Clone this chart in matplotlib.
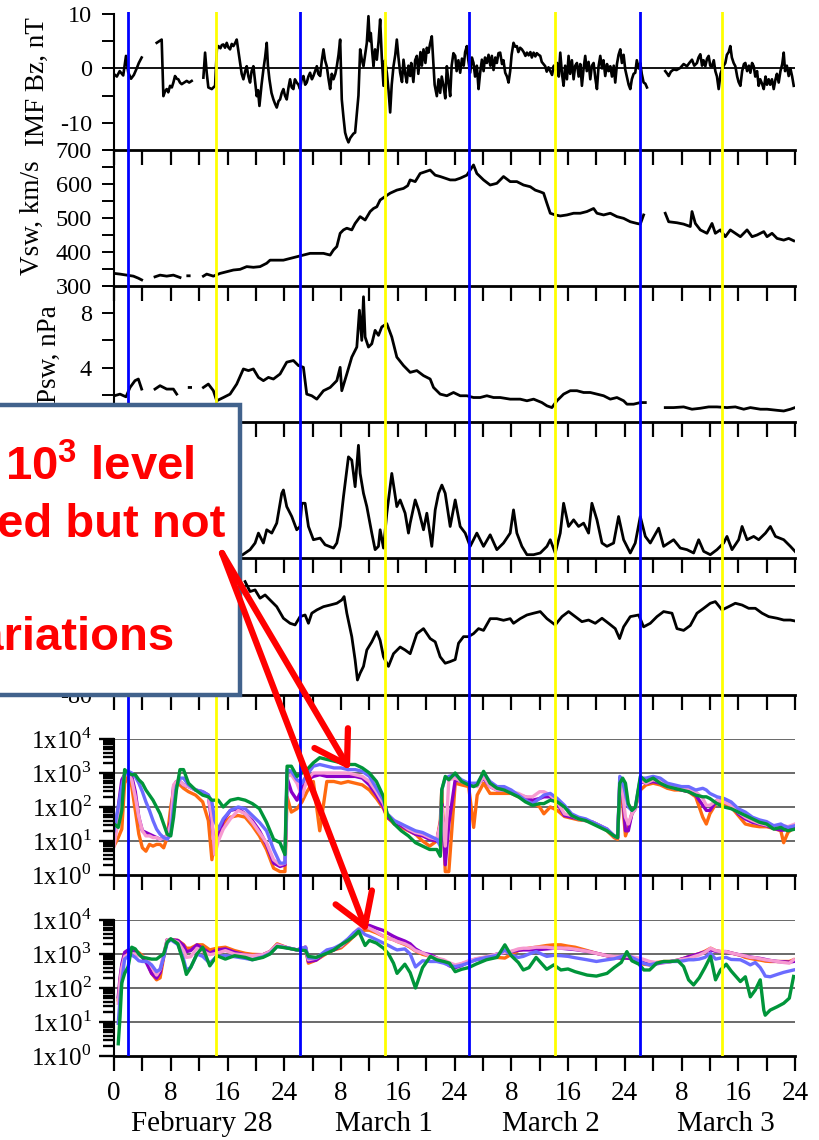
import numpy as np
import matplotlib
matplotlib.use("Agg")
import matplotlib.pyplot as plt
from matplotlib.patches import Rectangle, FancyArrowPatch
from matplotlib.ticker import LogLocator, NullFormatter

plt.rcParams['font.family'] = ['Liberation Serif', 'DejaVu Serif']
plt.rcParams['axes.unicode_minus'] = False
plt.rcParams['mathtext.fontset'] = 'custom'
plt.rcParams['mathtext.rm'] = 'Liberation Serif'
plt.rcParams['mathtext.bf'] = 'Liberation Sans:bold'

nan = np.nan

# -------------------- data (hours from Feb 28 00 UT) --------------------
hour_labels = ['0', '', '8', '', '16', '', '24', '', '8', '', '16', '', '24',
               '', '8', '', '16', '', '24', '', '8', '', '16', '', '24']
day_names = ['February 28', 'March 1', 'March 2', 'March 3']
day_pos = [12.3, 38.0, 61.6, 86.3]
blue_marks = [2.0, 26.2, 50.1, 74.2]
yellow_marks = [14.4, 38.2, 62.2, 85.7]

# IMF Bz, nT
bz_pts = [(0.05, -1.1), (0.4, -1.5), (0.8, -0.5), (1.3, -1.3), (1.69, 2.3), (2.0, -0.7), (2.4, -1.9),
          (2.8, -1.2), (3.2, 0.0), (3.5, 1.0), (3.9, 2.0), (4.5, nan),
          (6.02, 4.7), (6.72, 5.3), (6.96, -5.1), (7.2, -4.2), (7.43, -3.8), (7.65, -4.4), (7.9, -3.2),
          (8.15, -3.5), (8.37, -2.6), (8.6, -1.4), (8.85, -1.9), (9.07, -2.0), (9.3, -2.6),
          (9.54, -2.9), (9.9, -2.6), (10.25, -2.3), (10.6, -2.6), (10.95, -2.3), (11.5, nan),
          (12.6, -1.7), (12.84, 2.9), (13.07, -0.8), (13.3, -3.5), (13.78, -3.8), (14.25, -3.2),
          (14.5, 3.5), (14.72, 4.1), (15.0, 3.7), (15.2, 4.3), (15.42, 4.4), (15.65, 3.8),
          (15.89, 4.7), (16.1, 3.9), (16.36, 3.5), (16.6, 4.5), (16.83, 4.1), (17.05, 4.6),
          (17.3, 5.3), (17.55, 3.0), (17.77, 1.0), (18.0, -1.0), (18.24, -2.0), (18.5, -0.5),
          (18.71, 0.4), (18.95, -1.5), (19.18, -2.6), (19.4, -0.5), (19.65, 0.4), (19.9, -2.5),
          (20.12, -5.1), (20.3, -4.0), (20.5, -6.9), (20.8, -3.0), (21.06, -0.2), (21.3, 2.0),
          (21.53, 4.7), (21.7, 0.5), (21.91, -2.0), (22.2, -4.5), (22.47, -5.7), (22.7, -6.5),
          (22.94, -7.2), (23.2, -6.0), (23.41, -5.7), (23.65, -4.5), (23.88, -3.8), (24.1, -5.0),
          (24.35, -5.7), (24.6, -3.5), (24.82, -2.0), (25.05, -3.5), (25.29, -3.8), (25.5, -2.0),
          (25.76, -2.6), (26.0, -3.0), (26.23, -3.8), (26.45, -2.0), (26.7, -1.4), (26.95, -3.0),
          (27.17, -2.6), (27.4, -1.5), (27.64, -0.8), (27.9, -2.0), (28.11, -1.4), (28.35, -0.5),
          (28.59, 0.4), (28.8, -1.0), (29.06, -1.4), (29.3, 1.5), (29.53, 3.5), (29.75, 1.5),
          (29.99, 0.4), (30.25, -2.0), (30.47, -3.8), (30.7, -1.0), (30.94, -2.0), (31.2, -1.0),
          (31.41, 0.4), (31.65, 2.5), (31.88, 5.3), (32.11, -5.7), (32.35, -9.0), (32.58, -11.8),
          (32.8, -12.8), (33.05, -13.6), (33.3, -12.8), (33.52, -12.4), (33.75, -12.0),
          (33.99, -11.8), (34.25, -8.0), (34.46, -5.0), (34.7, 3.5), (34.95, 1.5), (35.17, 0.4),
          (35.4, 2.5), (35.64, 4.7), (35.87, 9.6), (36.05, 5.0), (36.2, 6.5), (36.4, 3.0),
          (36.58, 0.4), (36.8, 3.5), (37.05, 1.6), (37.3, 5.0), (37.52, 9.0), (37.75, 2.0),
          (37.99, -3.2), (38.2, 1.5), (38.46, -0.8), (38.7, -4.0), (38.93, -8.1), (39.15, -3.0),
          (39.4, 0.4), (39.65, 2.5), (39.87, 5.3), (40.1, 2.0), (40.34, -0.8), (40.6, -2.5),
          (40.81, 1.6), (41.05, -1.0), (41.28, -2.6), (41.5, 0.5), (41.75, -1.4), (41.9, 1.0),
          (42.2, -2.5), (42.45, 1.5), (42.69, 2.3), (42.9, -1.0), (43.2, 3.0), (43.4, 0.5),
          (43.63, 3.5), (43.9, 1.0), (44.1, 3.8), (44.33, 2.9), (44.55, 4.5), (44.8, 5.9),
          (45.04, 0.4), (45.2, -3.0), (45.51, -5.1), (45.75, -2.0), (45.98, -4.5), (46.2, -1.5),
          (46.45, -3.2), (46.7, -5.5), (46.92, 0.4), (47.15, -2.5), (47.39, -5.1), (47.6, 0.5),
          (47.85, 2.8), (48.1, 2.3), (48.3, -0.5), (48.55, 1.5), (48.8, -0.8), (49.05, 1.8),
          (49.3, 0.5), (49.5, 3.0), (49.74, 4.1), (49.95, 1.5), (50.21, -0.8), (50.45, 2.0),
          (50.68, 1.0), (50.9, -1.5), (51.15, 0.5), (51.39, -3.8), (51.6, -1.0), (51.86, 1.6),
          (52.1, -0.5), (52.3, 2.0), (52.56, 1.0), (52.8, 2.5), (53.05, 0.5), (53.27, 2.3),
          (53.5, -0.3), (53.75, 2.0), (53.97, 1.0), (54.2, 2.8), (54.44, 2.9), (54.7, 0.8),
          (54.9, 1.5), (55.15, -0.8), (55.4, -1.5), (55.62, -2.6), (55.85, -0.5), (56.05, 2.5),
          (56.32, 4.7), (56.55, 4.0), (56.79, 4.1), (57.0, 3.0), (57.25, 3.8), (57.5, 3.5),
          (57.75, 3.0), (58.0, 2.3), (58.21, 2.9), (58.45, 2.4), (58.7, 3.0), (58.9, 2.0),
          (59.15, 2.9), (59.4, 2.2), (59.6, 2.8), (59.85, 2.5), (60.09, 2.3), (60.3, 1.2),
          (60.55, 0.8), (60.79, 0.4), (61.0, -0.6), (61.25, 0.2), (61.5, -0.5), (61.75, -1.2),
          (62.0, 0.5), (62.2, -0.2), (62.45, 1.0), (62.7, -1.5), (62.91, 2.9), (63.15, -1.0),
          (63.38, -3.2), (63.6, 0.5), (63.85, -2.0), (64.08, 2.3), (64.3, -1.0), (64.55, 1.5),
          (64.79, -2.0), (65.02, 0.5), (65.26, 1.0), (65.5, -1.5), (65.73, 0.8), (65.96, -3.2),
          (66.2, 0.0), (66.43, 2.3), (66.65, -0.5), (66.9, 1.2), (67.14, -2.0), (67.37, 0.5),
          (67.61, 1.0), (67.85, -1.8), (68.08, -3.8), (68.3, 0.3), (68.55, 2.3), (68.8, 0.0),
          (69.0, 1.5), (69.25, -1.4), (69.5, 0.8), (69.72, -0.5), (69.96, 0.4), (70.2, -1.5),
          (70.45, 0.5), (70.66, -2.6), (70.9, 0.8), (71.13, 2.5), (71.37, 3.5), (71.6, 1.0),
          (71.84, 2.5), (72.07, -0.2), (72.3, -1.5), (72.55, -3.0), (72.78, -3.8), (73.0, -2.0),
          (73.25, -1.0), (73.48, -0.8), (73.7, 1.5), (73.95, 0.0), (74.19, 1.0), (74.4, -1.0),
          (74.66, -2.6), (74.9, -2.8), (75.13, -3.5), (76.0, nan),
          (77.71, -0.5), (78.0, -1.0), (78.19, -1.4), (78.5, -0.6), (78.89, -0.2), (79.3, -0.3),
          (79.83, 0.1), (80.3, 0.8), (80.77, 0.4), (81.1, 1.0), (81.48, 1.6), (81.8, 0.5),
          (82.18, 1.0), (82.4, 2.0), (82.65, 2.6), (82.9, 0.5), (83.1, 1.5), (83.36, 0.4),
          (83.6, 1.8), (83.83, 2.3), (84.05, 0.5), (84.3, 0.4), (84.55, 1.5), (84.77, -0.5),
          (85.0, -1.5), (85.24, -3.8), (85.5, -1.0), (85.71, -0.2), (85.95, 0.5), (86.18, 1.0),
          (86.4, 2.5), (86.65, 3.0), (86.88, 4.1), (87.1, 2.0), (87.35, 1.0), (87.59, 0.4),
          (87.85, -1.5), (88.05, -2.5), (88.3, -3.2), (88.55, -0.5), (88.8, 0.8), (89.0, 1.0),
          (89.25, -0.5), (89.5, 0.5), (89.71, -0.8), (89.95, 1.0), (90.18, 0.4), (90.4, -1.5),
          (90.65, -0.5), (90.88, -3.2), (91.1, -2.0), (91.35, -2.8), (91.59, -3.8), (91.85, -1.5),
          (92.05, -3.0), (92.29, -2.0), (92.5, -3.0), (92.75, -2.0), (93.0, -3.8), (93.25, -2.0),
          (93.45, -1.0), (93.7, -2.6), (93.95, -0.5), (94.2, 0.8), (94.41, 2.9), (94.6, -0.5),
          (94.85, 0.5), (95.11, -1.4), (95.35, 0.0), (95.6, -1.5), (95.82, -3.2)]

# solar wind speed, km/s
vsw_pts = [(0.05, 337), (0.85, 335), (1.79, 332), (2.73, 329), (3.43, 323), (3.9, 318), (4.5, nan),
           (5.78, 327), (6.49, 332), (7.43, 329), (8.37, 332), (9.31, 325), (9.8, nan),
           (10.4, 330), (10.6, 330), (11.0, nan),
           (12.6, 329), (13.07, 335), (14.01, 329), (14.95, 337), (15.89, 342), (16.83, 347),
           (17.77, 349), (18.71, 357), (19.65, 355), (20.59, 357), (21.53, 367), (22.0, 376),
           (22.94, 376), (23.88, 376), (24.82, 381), (25.76, 386), (26.7, 391), (27.64, 396),
           (28.59, 396), (29.53, 396), (30.47, 391), (30.94, 406), (31.41, 416), (31.88, 455),
           (32.35, 465), (32.82, 470), (33.52, 465), (33.99, 484), (34.7, 504), (35.4, 494),
           (36.11, 519), (36.58, 528), (37.05, 533), (37.52, 553), (38.22, 563), (38.93, 573),
           (39.87, 582), (40.81, 587), (41.4, 595), (41.75, 612), (42.46, 607), (43.16, 631),
           (43.87, 636), (44.57, 641), (45.28, 626), (45.98, 622), (46.69, 617), (47.39, 612),
           (48.1, 612), (48.8, 617), (49.74, 626), (50.21, 641), (50.68, 656), (51.15, 631),
           (52.09, 612), (53.03, 597), (53.97, 602), (54.91, 622), (55.85, 607), (56.79, 607),
           (57.73, 597), (58.68, 592), (59.38, 582), (60.09, 577), (60.56, 573), (61.03, 543),
           (61.5, 514), (62.2, 509), (62.91, 506), (63.85, 509), (64.79, 514), (65.73, 514),
           (66.67, 519), (67.61, 528), (68.08, 514), (69.02, 509), (69.96, 514), (70.9, 504),
           (71.84, 499), (72.78, 489), (73.72, 484), (74.19, 482), (74.66, 509), (75.5, nan),
           (77.71, 514), (78.19, 489), (79.36, 486), (80.3, 482), (81.24, 475), (81.48, 519),
           (81.95, 484), (82.65, 465), (83.59, 455), (84.3, 484), (84.77, 455), (85.47, 465),
           (86.18, 445), (86.88, 465), (87.59, 455), (88.3, 445), (88.77, 455), (89.24, 465),
           (89.95, 445), (90.65, 450), (91.6, 460), (92.06, 445), (92.76, 455), (93.47, 440),
           (94.41, 435), (95.11, 440), (95.82, 433)]

# solar wind dynamic pressure, nPa
psw_pts = [(0.05, 1.93), (0.85, 2.05), (1.69, 1.85), (2.26, 2.54), (2.96, 3.04), (3.43, 3.16),
           (3.9, 2.42), (4.5, nan),
           (5.78, 2.42), (6.49, 2.67), (7.43, 2.42), (8.37, 2.42), (8.84, 2.05), (9.5, nan),
           (10.6, 2.54), (10.8, 2.54), (11.2, nan),
           (12.6, 2.54), (13.3, 2.79), (14.01, 2.30), (14.48, 1.56), (15.42, 1.80), (16.36, 2.05),
           (17.3, 2.79), (18.24, 3.90), (18.95, 3.78), (19.65, 3.90), (20.36, 3.28), (21.06, 3.04),
           (21.77, 3.28), (22.47, 3.16), (23.41, 3.53), (24.35, 4.40), (25.29, 4.52), (26.0, 4.15),
           (26.7, 4.02), (27.17, 2.05), (27.88, 1.93), (28.59, 1.68), (29.53, 2.30), (30.47, 2.54),
           (31.41, 3.04), (31.88, 4.02), (32.11, 2.30), (32.82, 3.53), (33.52, 4.77), (34.23, 5.51),
           (34.6, 8.22), (34.93, 6.0), (35.17, 9.21), (35.4, 6.25), (35.87, 5.51), (36.34, 5.75),
           (36.81, 6.74), (37.28, 6.37), (37.75, 6.99), (38.46, 7.23), (39.16, 6.25), (39.87, 4.77),
           (40.81, 4.15), (41.75, 3.65), (42.69, 3.78), (43.63, 3.41), (44.57, 3.16), (45.04, 2.54),
           (45.98, 2.05), (46.92, 1.93), (47.86, 2.17), (48.8, 1.93), (49.74, 1.93), (50.68, 1.80),
           (51.62, 1.80), (52.56, 1.93), (53.5, 1.80), (54.44, 1.80), (55.85, 1.68), (57.26, 1.68),
           (58.21, 1.56), (59.15, 1.68), (60.32, 1.43), (61.03, 1.19), (61.73, 1.06), (62.44, 1.56),
           (63.38, 2.05), (64.32, 2.30), (65.26, 2.30), (66.2, 2.17), (67.14, 2.17), (68.08, 2.05),
           (69.02, 1.93), (69.96, 1.68), (70.9, 1.80), (71.84, 1.56), (72.31, 1.31), (73.25, 1.31),
           (74.19, 1.43), (74.9, 1.43), (75.6, nan),
           (77.71, 1.06), (78.89, 1.06), (80.3, 1.11), (81.48, 0.94), (82.65, 1.01), (83.83, 1.11),
           (85.0, 1.11), (86.41, 1.06), (87.59, 1.11), (88.77, 0.94), (89.71, 1.06), (91.12, 0.94),
           (92.06, 0.94), (93.47, 0.86), (94.41, 0.81), (95.35, 0.94), (96.0, 1.06)]

# auroral activity index, nT (left part hidden by the callout)
ae_pts = [(18.15, 39), (19.18, 98), (19.89, 176), (20.36, 293), (21.06, 176), (21.53, 332),
          (22.24, 293), (22.94, 410), (23.65, 761), (23.88, 800), (24.35, 605), (25.06, 488),
          (25.76, 332), (26.23, 371), (26.47, 644), (26.94, 644), (27.41, 371), (28.11, 215),
          (29.06, 234), (29.76, 156), (30.94, 117), (31.41, 176), (31.88, 371), (32.35, 722),
          (33.05, 1190), (33.52, 1151), (33.99, 839), (34.46, 1326), (34.7, 995), (35.17, 761),
          (35.64, 605), (36.34, 293), (36.81, 98), (37.28, 137), (37.52, 332), (37.99, 117),
          (38.46, 527), (39.16, 995), (39.87, 605), (40.34, 683), (41.04, 527), (41.51, 293),
          (41.75, 410), (42.46, 683), (42.93, 566), (43.63, 332), (44.1, 527), (44.8, 137),
          (45.28, 566), (45.75, 761), (46.22, 858), (46.69, 761), (47.39, 371), (48.1, 683),
          (48.8, 371), (49.51, 293), (50.21, 137), (51.15, 293), (52.09, 137), (53.03, 273),
          (53.97, 98), (54.91, 176), (55.85, 293), (56.32, 566), (56.79, 293), (57.5, 137),
          (58.21, 39), (59.15, 39), (60.09, 59), (61.03, 137), (61.5, 215), (62.2, 59),
          (62.91, 293), (63.38, 644), (64.08, 371), (64.79, 449), (65.49, 371), (66.2, 410),
          (66.9, 293), (67.37, 644), (68.08, 449), (68.79, 176), (69.49, 137), (70.43, 176),
          (71.13, 488), (71.84, 215), (72.78, 59), (73.48, 176), (74.19, 488), (74.9, 254),
          (75.6, 176), (76.78, 351), (77.48, 137), (78.89, 215), (79.83, 117), (80.77, 98),
          (81.71, 59), (82.42, 215), (83.13, 78), (84.06, 39), (85.0, 98), (85.94, 176),
          (86.41, 254), (87.12, 98), (88.06, 215), (88.54, 371), (89.24, 215), (90.18, 254),
          (90.88, 215), (91.84, 293), (92.53, 371), (93.24, 254), (94.41, 215), (95.35, 137),
          (96.0, 78)]

# ring current index, nT (left part hidden by the callout)
dst_pts = [(18.48, 3.2), (19.18, -4.1), (19.89, -2.9), (20.59, -9.0), (21.3, -6.6), (22.0, -10.3),
           (22.94, -15.2), (23.88, -23.7), (24.82, -27.4), (25.53, -28.6), (26.23, -22.5),
           (26.94, -21.3), (27.41, -27.4), (27.88, -20.0), (28.59, -17.6), (29.53, -15.2),
           (30.47, -14.0), (31.41, -12.7), (32.11, -10.3), (32.44, -7.8), (32.82, -20.0),
           (33.52, -37.2), (33.99, -54.3), (34.32, -69.0), (34.7, -64.0), (35.17, -59.0),
           (35.64, -47.0), (36.34, -41.0), (37.05, -33.5), (37.52, -40.0), (37.99, -52.0),
           (38.69, -59.0), (39.4, -49.7), (40.34, -44.8), (41.04, -47.0), (41.75, -49.7),
           (42.69, -35.0), (43.63, -31.3), (44.57, -38.6), (45.28, -41.0), (45.98, -52.0),
           (46.69, -56.7), (47.39, -55.5), (48.1, -54.0), (48.57, -42.0), (49.27, -37.2),
           (49.97, -37.2), (50.68, -35.0), (51.39, -31.3), (52.09, -32.6), (53.03, -24.0),
           (53.97, -24.0), (54.91, -25.2), (55.85, -24.0), (56.32, -27.4), (57.26, -24.0),
           (58.21, -21.3), (59.15, -20.0), (60.09, -18.8), (61.03, -24.0), (62.2, -28.6),
           (63.15, -22.5), (64.08, -18.8), (65.02, -22.5), (65.96, -26.2), (66.9, -25.0),
           (67.84, -27.4), (68.79, -23.7), (69.72, -27.4), (70.66, -31.3), (71.27, -38.6),
           (71.84, -30.0), (72.78, -22.5), (73.96, -21.3), (74.66, -30.0), (75.6, -27.4),
           (76.54, -22.5), (77.48, -18.8), (78.66, -20.0), (79.36, -31.3), (80.3, -32.6),
           (81.24, -29.0), (82.18, -20.0), (83.13, -16.4), (84.06, -12.7), (84.77, -11.5),
           (85.71, -17.6), (86.65, -15.2), (87.59, -12.7), (88.54, -14.0), (89.47, -16.4),
           (90.41, -16.4), (91.36, -20.0), (92.29, -22.5), (93.47, -23.7), (94.41, -25.0),
           (95.35, -25.0), (96.0, -25.7)]

# electron flux, upper log panel: common time base, values are log10(flux)
t6 = [0, 0.6, 1.1, 1.5, 2.0, 2.5, 3.0, 3.5, 4.0, 4.5, 5.0, 5.5, 6.0, 6.5, 7.0, 7.5, 8.0, 8.4, 8.8, 9.3,
      9.8, 10.5, 11.5, 12.5, 13.3, 13.8, 14.2, 14.7, 15.4, 16.4, 17.5, 18.5, 19.5, 20.5, 21.5,
      22.5, 23.4, 24.1, 24.4, 25.0, 25.8, 26.5, 27.2, 28.1, 29.0, 30, 31, 32, 33, 34,
      35, 36, 37, 38, 38.5, 39.5, 40.5, 41.5, 42.5, 43.5, 44.5, 45.5, 46.0, 46.2, 46.7,
      47.2, 48.1, 49.0, 50.0, 50.7, 51.2, 52.1, 53, 54, 55, 56, 57, 58, 59, 60,
      60.6, 61.5, 62.5, 63.5, 64.5, 65.5, 66.5, 67.5, 68.5, 69.5, 70.5, 71.0, 71.3, 71.7, 72.1,
      72.5, 73.0, 73.5, 74.2, 75.0, 76, 77, 78, 79, 80, 81, 82, 83, 83.5, 84,
      85, 86, 87, 88, 89, 90, 91, 92, 93, 94, 94.4, 95, 96]
f6_green = [1.5, 1.4, 1.9, 3.1, 3.0, 2.95, 2.95, 2.8, 2.7, 2.5, 2.35, 2.2, 2.0, 1.8, 1.5,
            1.2, 1.15, 1.7, 2.5, 3.1, 3.1, 2.7, 2.5, 2.35, 2.3, 2.2, 2.2, 2.2, 2.0, 2.2,
            2.25, 2.2, 2.1, 1.95, 1.55, 1.05, 0.95, 0.6, 3.2, 3.2, 2.9, 3.0, 3.1, 3.3, 3.45,
            3.4, 3.35, 3.3, 3.25, 3.25, 3.15, 3.0, 2.75, 2.3, 1.8, 1.5, 1.3, 1.15, 0.95, 0.85,
            0.75, 0.75, 0.55, 2.5, 2.9, 2.8, 3.0, 2.75, 2.65, 2.6, 2.65, 3.05, 2.7, 2.55, 2.5,
            2.4, 2.3, 2.15, 2.05, 2.1, 2.1, 2.2, 2.15, 2.0, 1.75, 1.65, 1.6, 1.5, 1.4, 1.3,
            1.15, 1.1, 2.7, 2.85, 2.7, 2.1, 1.9, 2.0, 2.9, 2.75, 2.85, 2.7, 2.6, 2.55, 2.5,
            2.45, 2.35, 2.3, 2.3, 2.25, 2.1, 2.0, 1.95, 1.85, 1.75, 1.65, 1.55, 1.5, 1.35, 1.4,
            1.35, 1.3, 1.35]
f6_blue = [1.3, 2.0, 2.6, 2.95, 3.05, 3.0, 2.9, 2.7, 2.45, 2.15, 1.9, 1.6, 1.35, 1.2, 1.1,
           1.05, 1.2, 2.0, 2.6, 2.85, 2.85, 2.65, 2.5, 2.45, 2.35, 2.15, 1.6, 1.35, 1.65, 1.9,
           2.0, 1.95, 1.75, 1.55, 1.3, 0.75, 0.35, 0.35, 3.1, 3.05, 2.8, 2.7, 2.95, 3.2, 3.25,
           3.2, 3.15, 3.15, 3.1, 3.1, 3.05, 2.9, 2.55, 2.2, 1.8, 1.6, 1.5, 1.4, 1.3, 1.25,
           1.15, 1.05, 0.85, 2.5, 2.85, 2.9, 2.95, 2.8, 2.7, 2.7, 2.7, 3.0, 2.75, 2.6, 2.6,
           2.5, 2.35, 2.2, 2.1, 2.25, 2.35, 2.4, 2.25, 2.05, 1.8, 1.7, 1.65, 1.55, 1.45, 1.35,
           1.15, 1.1, 2.9, 2.75, 2.4, 2.0, 1.9, 2.0, 2.85, 2.85, 2.9, 2.85, 2.7, 2.65, 2.6,
           2.6, 2.5, 2.55, 2.5, 2.4, 2.3, 2.25, 2.15, 1.95, 1.85, 1.7, 1.62, 1.57, 1.45, 1.5,
           1.45, 1.4, 1.45]
f6_pink = [0.85, 1.6, 2.5, 2.95, 3.0, 2.8, 2.3, 1.7, 1.3, 1.15, 1.15, 1.1, 1.1, 1.05, 1.1,
           1.15, 1.5, 2.65, 2.75, 2.75, 2.65, 2.6, 2.5, 2.45, 2.3, 1.7, 0.6, 1.0, 1.35, 1.65,
           1.9, 1.8, 1.55, 1.25, 0.95, 0.45, 0.3, 0.35, 2.9, 2.95, 2.7, 2.3, 2.8, 3.0, 3.0,
           3.0, 3.0, 3.0, 3.0, 2.95, 2.9, 2.75, 2.45, 2.1, 1.8, 1.6, 1.5, 1.35, 1.25, 1.2,
           1.1, 1.05, 1.5, 2.0, 0.85, 2.8, 2.85, 2.75, 2.7, 2.65, 2.6, 2.9, 2.6, 2.5, 2.5,
           2.45, 2.4, 2.3, 2.3, 2.45, 2.45, 2.35, 2.15, 1.8, 1.75, 1.65, 1.6, 1.55, 1.45, 1.35,
           1.15, 1.1, 2.75, 2.4, 1.7, 1.5, 1.8, 1.95, 2.8, 2.7, 2.8, 2.75, 2.6, 2.55, 2.55,
           2.55, 2.45, 2.25, 2.05, 2.05, 2.2, 2.15, 2.05, 1.85, 1.7, 1.6, 1.52, 1.47, 1.42, 1.47,
           1.45, 1.42, 1.5]
f6_purple = [0.95, 2.0, 2.8, 2.95, 3.0, 2.9, 2.45, 1.7, 1.3, 1.25, 1.2, 1.15, 1.1, 1.05, 1.1,
             1.15, 1.6, 2.6, 2.75, 2.75, 2.65, 2.6, 2.5, 2.45, 2.35, 1.5, 0.85, 1.1, 1.6, 1.9,
             1.95, 1.8, 1.6, 1.3, 0.9, 0.35, 0.25, 0.3, 2.85, 2.45, 2.2, 2.55, 2.8, 2.9, 2.95,
             2.9, 2.9, 2.9, 2.9, 2.9, 2.85, 2.65, 2.35, 2.0, 1.7, 1.55, 1.45, 1.32, 1.2, 1.15,
             1.05, 1.0, 1.5, 2.1, 0.3, 1.5, 2.8, 2.75, 2.7, 2.65, 2.65, 2.85, 2.6, 2.5, 2.5,
             2.45, 2.35, 2.3, 2.2, 2.25, 2.3, 2.3, 2.1, 1.75, 1.7, 1.65, 1.6, 1.55, 1.45, 1.35,
             1.15, 1.1, 2.7, 2.4, 1.3, 1.3, 1.8, 1.95, 2.75, 2.7, 2.75, 2.7, 2.6, 2.55, 2.5,
             2.45, 2.35, 2.05, 1.9, 1.9, 2.2, 2.15, 2.1, 1.8, 1.65, 1.55, 1.5, 1.45, 1.37, 1.32,
             1.32, 1.35, 1.45]
f6_orange = [0.85, 1.1, 1.35, 2.7, 2.9, 2.6, 1.9, 1.2, 0.8, 0.7, 0.9, 0.85, 0.9, 0.9, 0.8,
             1.1, 2.0, 2.5, 2.75, 2.65, 2.55, 2.45, 2.35, 2.15, 1.6, 0.45, 1.05, 1.25, 1.5, 1.7,
             1.75, 1.7, 1.45, 1.15, 0.75, 0.2, 0.1, 0.1, 2.3, 1.85, 1.95, 2.15, 2.45, 2.75, 1.3,
             2.75, 2.75, 2.7, 2.75, 2.7, 2.65, 2.5, 2.25, 1.95, 1.7, 1.5, 1.4, 1.3, 1.2, 1.0,
             0.85, 1.0, 1.6, 2.5, 0.1, 0.1, 2.7, 2.65, 2.6, 1.4, 2.35, 2.7, 2.4, 2.4, 2.4,
             2.4, 2.3, 2.25, 2.15, 2.0, 1.8, 2.0, 1.9, 1.72, 1.67, 1.62, 1.6, 1.55, 1.45, 1.3,
             1.1, 1.05, 2.6, 2.1, 1.15, 1.4, 1.8, 2.0, 2.5, 2.65, 2.7, 2.65, 2.55, 2.5, 2.5,
             2.45, 2.3, 1.7, 1.5, 1.8, 2.15, 2.1, 2.0, 1.75, 1.5, 1.45, 1.42, 1.42, 1.37, 1.3,
             0.95, 1.25, 1.42]

# electron flux, lower log panel: common time base, values are log10(flux)
t7 = [0.6, 0.85, 1.1, 1.5, 2.0, 2.5, 3.0, 3.5, 4.0, 4.6, 5.3, 6.0, 6.5, 7.0, 7.5,
      8.0, 9.0, 9.8, 10.2, 10.8, 11.7, 12.5, 13.5, 14.5, 15.7, 17.0, 18.5, 19.5, 21.0, 22.0,
      23.0, 24.5, 25.8, 27.0, 27.4, 28.5, 30.0, 31.0, 32.0, 33.0, 33.8, 34.5, 35.4, 36.0, 37.0,
      38.0, 38.7, 39.4, 39.9, 41.0, 41.75, 42.5, 43.5, 44.6, 45.5, 46.5, 47.3, 48.1, 49.0, 50.0,
      51.0, 52.5, 54.0, 55.1, 56.0, 57.0, 57.7, 58.5, 59.5, 61.0, 62.0, 63.0, 64.0, 65.0, 66.7,
      68.0, 69.5, 70.5, 71.5, 72.3, 73.0, 74.0, 74.7, 75.5, 76.5, 77.5, 78.5, 79.5, 80.3, 81.0,
      81.7, 82.5, 83.3, 84.1, 84.8, 85.5, 86.3, 87.0, 88.3, 89.0, 89.7, 90.4, 91.1, 91.6, 91.8,
      92.5, 93.5, 94.4, 95.2, 95.8]
f7_green = [0.36, 1.15, 2.15, 2.43, 2.63, 3.2, 3.15, 3.0, 2.9, 2.88, 2.85, 2.85, 2.93, 3.0, 3.35,
            3.45, 3.3, 2.75, 2.4, 2.6, 3.0, 3.2, 2.65, 2.95, 2.85, 2.95, 2.9, 2.83, 2.9, 3.0,
            3.22, 3.17, 3.12, 3.1, 2.93, 2.9, 3.02, 3.12, 3.27, 3.4, 3.52, 3.67, 3.25, 3.4, 3.32,
            3.17, 3.0, 2.73, 2.43, 2.7, 2.45, 2.0, 2.6, 2.93, 2.83, 2.78, 2.73, 2.48, 2.55, 2.6,
            2.7, 2.83, 2.9, 3.27, 2.95, 2.75, 2.53, 2.6, 2.9, 2.55, 2.68, 2.53, 2.56, 2.48, 2.38,
            2.35, 2.43, 2.6, 2.75, 3.07, 2.8, 2.7, 2.53, 2.53, 2.73, 2.78, 2.78, 2.8, 2.63, 2.24,
            2.09, 2.3, 2.6, 2.93, 2.24, 2.53, 2.7, 2.5, 2.19, 2.33, 1.74, 1.94, 2.24, 1.35, 1.2,
            1.35, 1.45, 1.55, 1.7, 2.34]
f7_blue = [0.96, 1.7, 2.2, 2.85, 2.93, 2.97, 2.9, 2.8, 2.78, 2.78, 2.68, 2.48, 2.55, 2.9, 3.33,
           3.42, 3.28, 2.85, 2.53, 2.6, 3.0, 2.93, 2.73, 2.93, 2.95, 2.92, 2.87, 2.83, 2.92, 3.02,
           3.22, 3.18, 3.12, 3.2, 2.88, 2.88, 3.12, 3.17, 3.28, 3.45, 3.62, 3.73, 3.57, 3.52, 3.42,
           3.32, 3.25, 3.17, 3.12, 3.15, 3.0, 2.62, 2.8, 2.78, 2.78, 2.73, 2.66, 2.63, 2.67, 2.74,
           2.83, 2.9, 2.96, 3.12, 2.97, 2.9, 2.93, 3.0, 3.07, 2.93, 2.96, 2.95, 2.93, 2.89, 2.83,
           2.78, 2.83, 2.86, 2.92, 2.98, 2.9, 2.8, 2.72, 2.68, 2.73, 2.76, 2.78, 2.78, 2.8, 2.83,
           2.83, 2.85, 2.9, 3.02, 2.85, 2.88, 2.9, 2.84, 2.83, 2.76, 2.68, 2.75, 2.6, 2.43, 2.35,
           2.33, 2.4, 2.46, 2.5, 2.53]
f7_pink = [1.55, 2.2, 2.6, 2.93, 2.98, 3.0, 3.0, 2.95, 2.92, 2.88, 2.63, 2.38, 2.55, 3.0, 3.42,
           3.42, 3.35, 3.1, 2.9, 2.92, 3.17, 3.08, 2.98, 3.02, 3.1, 3.0, 2.97, 2.95, 2.98, 3.07,
           3.27, 3.18, 3.12, 3.2, 2.83, 2.88, 3.07, 3.17, 3.23, 3.42, 3.62, 3.75, 3.8, 3.76, 3.65,
           3.52, 3.46, 3.42, 3.37, 3.3, 3.22, 3.1, 3.03, 2.93, 2.88, 2.83, 2.74, 2.68, 2.72, 2.8,
           2.86, 2.92, 3.0, 3.05, 3.08, 3.15, 3.17, 3.17, 3.2, 3.2, 3.17, 3.17, 3.17, 3.14, 3.08,
           3.02, 2.95, 2.93, 2.93, 2.93, 2.92, 2.88, 2.84, 2.78, 2.75, 2.74, 2.78, 2.82, 2.85, 2.87,
           2.92, 2.97, 3.05, 3.17, 3.1, 3.07, 3.07, 3.03, 2.97, 2.94, 2.9, 2.89, 2.86, 2.84, 2.83,
           2.81, 2.78, 2.75, 2.73, 2.83]
f7_purple = [1.74, 2.3, 2.7, 3.05, 3.12, 3.12, 3.08, 3.0, 2.9, 2.73, 2.43, 2.29, 2.45, 2.95, 3.42,
             3.42, 3.4, 3.25, 3.07, 3.1, 3.27, 3.17, 3.02, 3.12, 3.15, 3.05, 2.97, 2.95, 2.98, 3.07,
             3.27, 3.18, 3.12, 3.2, 2.78, 2.82, 3.07, 3.12, 3.23, 3.4, 3.57, 3.72, 3.85, 3.84, 3.76,
             3.69, 3.6, 3.52, 3.47, 3.38, 3.3, 3.15, 3.03, 2.98, 2.88, 2.78, 2.65, 2.6, 2.66, 2.77,
             2.83, 2.9, 3.0, 3.05, 3.07, 3.11, 3.12, 3.12, 3.12, 3.15, 3.17, 3.17, 3.15, 3.13, 3.08,
             3.02, 2.95, 2.9, 2.88, 2.88, 2.86, 2.8, 2.74, 2.69, 2.71, 2.75, 2.78, 2.82, 2.87, 2.92,
             2.96, 3.01, 3.06, 3.12, 3.08, 3.07, 3.07, 3.03, 2.97, 2.94, 2.91, 2.89, 2.87, 2.85, 2.84,
             2.81, 2.78, 2.77, 2.76, 2.78]
f7_orange = [1.65, 2.2, 2.6, 3.03, 3.07, 3.1, 3.1, 3.04, 2.95, 2.78, 2.43, 2.24, 2.3, 2.9, 3.42,
             3.42, 3.4, 3.28, 3.17, 3.17, 3.27, 3.27, 3.12, 3.17, 3.2, 3.1, 3.02, 2.99, 2.98, 3.07,
             3.3, 3.18, 3.12, 3.2, 2.73, 2.82, 3.02, 3.12, 3.18, 3.36, 3.52, 3.64, 3.7, 3.7, 3.62,
             3.52, 3.46, 3.42, 3.37, 3.28, 3.2, 3.09, 2.99, 2.93, 2.88, 2.78, 2.69, 2.65, 2.71, 2.78,
             2.85, 2.91, 2.9, 2.88, 2.99, 3.1, 3.14, 3.17, 3.2, 3.25, 3.27, 3.27, 3.23, 3.2, 3.1,
             3.02, 2.95, 2.91, 2.88, 2.88, 2.86, 2.75, 2.7, 2.68, 2.75, 2.78, 2.78, 2.82, 2.87, 2.92,
             2.96, 3.01, 3.08, 3.17, 3.1, 3.07, 3.07, 3.03, 2.96, 2.9, 2.87, 2.84, 2.82, 2.8, 2.79,
             2.78, 2.78, 2.78, 2.78, 2.83]

flux_colors = {'orange': '#FF6A10', 'purple': '#8A00C8', 'pink': '#F79AD0',
               'blue': '#6B6BFF', 'green': '#00953A'}

# -------------------- layout (pixels of the 819x1140 picture) --------------------
W, H = 819, 1140
X0, X1 = 114, 795
fig = plt.figure(figsize=(W / 100, H / 100), dpi=100)


def panel(top, bot):
    return fig.add_axes([X0 / W, 1 - bot / H, (X1 - X0) / W, (bot - top) / H])


def style(ax, labels=False):
    ax.set_xlim(0, 96)
    ax.set_xticks(np.arange(0, 97, 4))
    ax.set_xticklabels(hour_labels if labels else [''] * 25)
    ax.spines['top'].set_visible(False)
    ax.spines['right'].set_visible(False)
    ax.spines['left'].set_linewidth(1.5)
    ax.spines['bottom'].set_linewidth(2.0)
    ax.tick_params(axis='x', direction='out', length=11, width=1.6, labelsize=19.5, pad=7)
    ax.tick_params(axis='y', which='both', direction='out', length=9, width=1.4,
                   labelsize=17.5, pad=7)
    ax.patch.set_alpha(0)


def draw(ax, pts, lw=2.0):
    t, v = np.array(pts, dtype=float).T
    ax.plot(t, v, color='black', lw=lw, solid_joinstyle='round')


ax1 = panel(14, 150)
ax2 = panel(150, 286)
ax3 = panel(286, 422)
ax4 = panel(422, 558)
ax5 = panel(558, 695)
ax6 = panel(739, 875)
ax7 = panel(920, 1056)

# IMF Bz
style(ax1)
ax1.axhline(0, color='black', lw=1.3)
draw(ax1, bz_pts, lw=1.9)
ax1.set_ylim(-15, 10)
ax1.set_yticks([-15, -10, -5, 0, 5, 10])
ax1.set_yticklabels(['', '-10', '', '0', '', '10'])
ax1.set_ylabel('IMF Bz, nT', fontsize=19.5, labelpad=7)

# Vsw
style(ax2)
draw(ax2, vsw_pts)
ax2.set_ylim(300, 700)
ax2.set_yticks(np.arange(300, 701, 50))
ax2.set_yticklabels(['300', '', '400', '', '500', '', '600', '', '700'])
ax2.set_ylabel('Vsw, km/s', fontsize=19.5, labelpad=8)

# Psw
style(ax3)
draw(ax3, psw_pts)
ax3.set_ylim(0, 10)
ax3.set_yticks([0, 2, 4, 6, 8, 10])
ax3.set_yticklabels(['', '', '4', '', '8', ''])
ax3.set_ylabel('Psw, nPa', fontsize=19.5, labelpad=13)

# auroral index (labels hidden under the callout)
style(ax4)
draw(ax4, ae_pts)
ax4.set_ylim(0, 1600)
ax4.set_yticks([0, 500, 1000, 1500])
ax4.set_yticklabels([])

# Dst
style(ax5)
ax5.axhline(0, color='black', lw=1.3)
draw(ax5, dst_pts)
ax5.set_ylim(-80, 20.5)
ax5.set_yticks([-80, -40, 0])
ax5.set_yticklabels(['-80', '', ''])

# electron flux panels
for ax, t, series, lab in [
        (ax6, t6, [f6_orange, f6_purple, f6_pink, f6_blue, f6_green], False),
        (ax7, t7, [f7_orange, f7_purple, f7_pink, f7_blue, f7_green], True)]:
    style(ax, labels=lab)
    ax.set_yscale('log')
    ax.set_ylim(1, 1e4)
    for lvl in [10, 100, 1000, 1e4]:
        ax.axhline(lvl, color='#505050', lw=1.2, zorder=1)
    for vals, name in zip(series, ['orange', 'purple', 'pink', 'blue', 'green']):
        ax.plot(t, 10 ** np.array(vals), color=flux_colors[name], lw=2.4, zorder=2)
    ax.set_yticks([1, 10, 100, 1000, 1e4])
    ax.set_yticklabels(['1x10$^{%d}$' % k for k in range(5)])
    ax.yaxis.set_minor_locator(LogLocator(base=10, subs=np.arange(2, 10), numticks=20))
    ax.yaxis.set_minor_formatter(NullFormatter())
    ax.tick_params(axis='y', which='minor', length=8, width=1.7)
    ax.tick_params(axis='y', which='major', length=11, width=1.7, labelsize=18, pad=5)

for x, name in zip(day_pos, day_names):
    ax7.text(x, -0.5, name, transform=ax7.get_xaxis_transform(), ha='center', va='center',
             fontsize=21)

# vertical event markers through all panels
ov = fig.add_axes([X0 / W, 1 - 1056 / H, (X1 - X0) / W, (1056 - 12) / H])
ov.set_xlim(0, 96)
ov.set_ylim(0, 1)
ov.axis('off')
ov.set_zorder(5)
for x in blue_marks:
    ov.axvline(x, color='#0000FF', lw=2.0)
for x in yellow_marks:
    ov.axvline(x, color='#FFFF00', lw=2.0)

# callout box
box = Rectangle((-10 / W, 1 - 695 / H), 250 / W, 290 / H, transform=fig.transFigure,
                facecolor='white', edgecolor='#41628C', lw=3.2, zorder=20)
fig.add_artist(box)
txt = dict(color='#FF0000', fontsize=34, fontweight='bold', family='Liberation Sans',
           va='baseline', zorder=21)
fig.text(5 / W, 1 - 480 / H, r'10$^{\mathbf{3}}$ level', ha='left', **txt)
fig.text(225 / W, 1 - 537 / H, 'reached but not', ha='right', **txt)
fig.text(175 / W, 1 - 650 / H, 'variations', ha='right', **txt)

# red arrows
for end in [(350, 770), (367, 932)]:
    arr = FancyArrowPatch((222 / W, 1 - 553 / H), (end[0] / W, 1 - end[1] / H),
                          transform=fig.transFigure, arrowstyle='->,head_length=0.8,head_width=0.5',
                          mutation_scale=28, lw=4.5, color='#FF0000', shrinkA=0, shrinkB=0,
                          capstyle='round', zorder=22)
    fig.add_artist(arr)

fig.savefig('out.png', dpi=100)
